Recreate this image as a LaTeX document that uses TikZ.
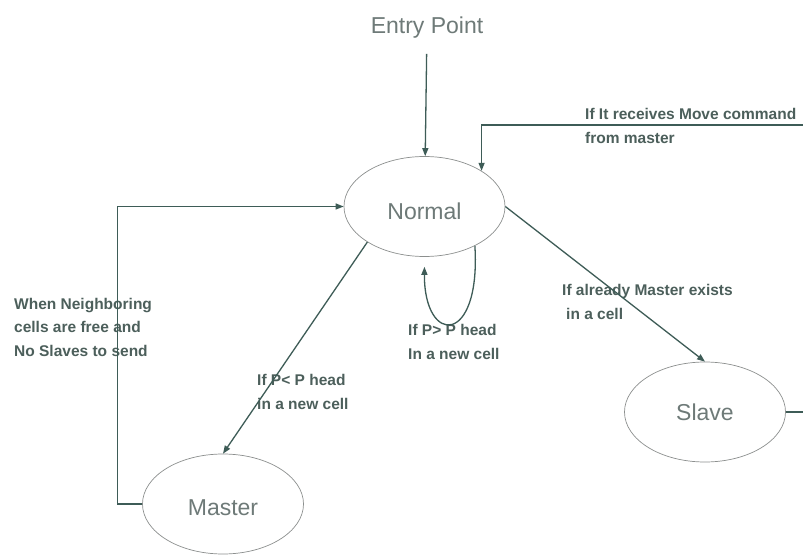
\documentclass[tikz,border=0pt]{standalone}
\usepackage{fontspec}
\setmainfont{Liberation Sans}
\usetikzlibrary{arrows.meta,shapes.geometric}
\definecolor{linec}{HTML}{3E5C57}
\definecolor{edgec}{HTML}{8C8F8E}
\definecolor{bigtxt}{HTML}{6E7A78}
\definecolor{smalltxt}{HTML}{4C5F5B}
\tikzset{
  state/.style={ellipse, draw=edgec, line width=0.7pt, minimum width=161pt,
    minimum height=100pt, inner sep=0pt, text=bigtxt, font=\fontsize{23}{26}\selectfont},
  arr/.style={draw=linec, line width=1.3pt, -{Triangle[length=8pt,width=6pt]}},
  plain/.style={draw=linec, line width=1.3pt},
  cond/.style={anchor=west, align=left, inner sep=0pt, text=smalltxt,
    font=\bfseries\fontsize{15.5}{23.5}\selectfont}
}
\begin{document}
\begin{tikzpicture}[x=1pt,y=-1pt]
\useasboundingbox[fill=white] (0,0) rectangle (803,556);

% states (text height sets the label a little below the centre)
\node[state, text height=26.5pt, text depth=0pt] (normal) at (424.5,206.5) {Normal};
\node[state] (slave)  at (705,412) {Slave};
\node[state, text height=22.5pt, text depth=0pt] (master) at (223,504) {Master};

% entry label
\node[text=bigtxt, font=\fontsize{23}{26}\selectfont, inner sep=0pt] (entry) at (427,28) {Entry Point};

% condition labels
\node[cond] (lmove) at (585,126) {If It receives Move command\\from master};
\node[cond] (lfree) at (14,327) {When Neighboring\\cells are free and\\No Slaves to send};
\node[cond] (lless) at (257,392) {If P< P head\\in a new cell};
\node[cond] (lmore) at (408,342) {If P> P head\\In a new cell};
\node[cond] (lmast) at (562,302) {If already Master exists\\\hspace*{4pt}in a cell};

% free ends of connectors leaving the page
\coordinate (movein) at (803,125);
\coordinate (slaveout) at (803,412);

% transitions
\draw[arr, shorten <=15pt] (entry) -- (normal);
\draw[arr] (movein) -| (normal.32);
\draw[plain] (slave.east) -- (slaveout);
\draw[arr] (master.west) -- ++(-25,0) |- (normal.west);
\draw[arr] (normal.south west) -- (master.north);
\draw[arr] (normal.east) -- (slave.north);
\draw[arr, shorten >=10pt] (normal.-38) .. controls (481,346) and (424,346) .. (normal.south);
\end{tikzpicture}
\end{document}
